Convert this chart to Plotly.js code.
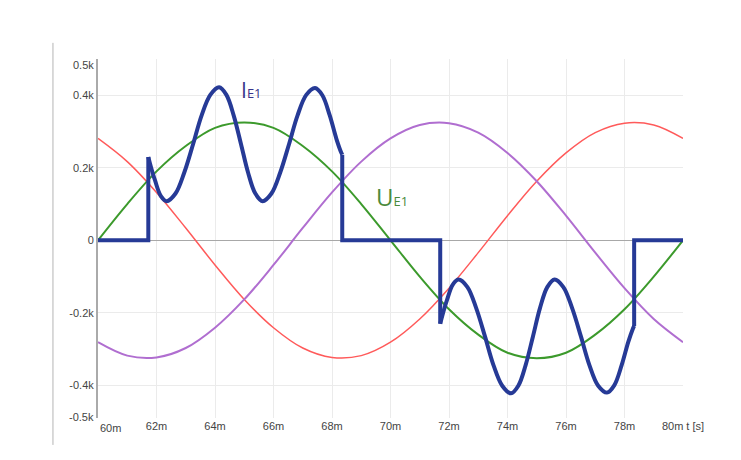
<!DOCTYPE html>
<html>
<head>
<meta charset="utf-8">
<script src="https://cdn.plot.ly/plotly-3.0.1.min.js"></script>
<style>
  html, body { margin: 0; padding: 0; background: #fff; }
  #chart { width: 741px; height: 460px; }
</style>
</head>
<body>
<div id="chart"></div>
<script>
// time axis in ms, values in kV / kA
const tPhase = [60, 61, 62, 63, 64, 65, 66, 67, 68, 69, 70, 71, 72, 73, 74, 75, 76, 77, 78, 79, 80];
const uRed = [0.281, 0.217, 0.132, 0.034, -0.068, -0.163, -0.241, -0.297, -0.323, -0.318, -0.281,
              -0.217, -0.132, -0.034, 0.068, 0.163, 0.241, 0.297, 0.323, 0.318, 0.281];
const uPurple = [-0.281, -0.318, -0.323, -0.297, -0.241, -0.163, -0.068, 0.034, 0.132, 0.217, 0.281,
                 0.318, 0.323, 0.297, 0.241, 0.163, 0.068, -0.034, -0.132, -0.217, -0.281];
const uE1 = [0, 0.10, 0.19, 0.26, 0.31, 0.325, 0.31, 0.26, 0.19, 0.10, 0,
             -0.10, -0.19, -0.26, -0.31, -0.325, -0.31, -0.26, -0.19, -0.10, 0];

// current I_E1: smooth lobes (null separates the two conduction intervals)
const tLobe = [61.72, 61.8, 61.95, 62.15, 62.35, 62.65, 62.95, 63.25, 63.54, 63.84,
  64.14, 64.39, 64.64, 64.89, 65.13, 65.38, 65.63, 65.93, 66.23, 66.53, 66.82,
  67.12, 67.42, 67.67, 67.92, 68.15, 68.3, 68.35, null,
  71.7, 71.78, 71.93, 72.13, 72.33, 72.63, 72.93, 73.23, 73.52, 73.82,
  74.12, 74.37, 74.62, 74.87, 75.11, 75.36, 75.61, 75.91, 76.21, 76.51, 76.8,
  77.1, 77.4, 77.65, 77.9, 78.13, 78.28, 78.33];
const iLobe = [0.23, 0.205, 0.165, 0.122, 0.108, 0.129, 0.187, 0.265, 0.344, 0.401,
  0.422, 0.401, 0.344, 0.265, 0.187, 0.129, 0.108, 0.129, 0.187, 0.265, 0.344,
  0.401, 0.42, 0.40, 0.345, 0.28, 0.245, 0.236, null,
  -0.23, -0.205, -0.165, -0.122, -0.108, -0.129, -0.187, -0.265, -0.344, -0.401,
  -0.422, -0.401, -0.344, -0.265, -0.187, -0.129, -0.108, -0.129, -0.187, -0.265, -0.344,
  -0.401, -0.42, -0.40, -0.345, -0.28, -0.245, -0.236];
// current I_E1: switching steps and zero intervals
const tStep = [60, 61.72, 61.72, null, 68.35, 68.35, 71.7, 71.7, null, 78.33, 78.33, 80];
const iStep = [0, 0, 0.23, null, 0.236, 0, 0, -0.23, null, -0.236, 0, 0];

const xTicks = [60, 62, 64, 66, 68, 70, 72, 74, 76, 78, 80];
const xTickText = ['', '62m', '64m', '66m', '68m', '70m', '72m', '74m', '76m', '78m', '80m t [s]'];
const yTicks = [-0.4, -0.2, 0, 0.2, 0.4];
const yTickText = ['-0.4k', '-0.2k', '0', '0.2k', '0.4k'];

const blue = '#263a96';
const data = [
  { x: tPhase, y: uRed, type: 'scatter', mode: 'lines', line: { color: '#ff5a5a', width: 1.5, shape: 'spline' } },
  { x: tPhase, y: uPurple, type: 'scatter', mode: 'lines', line: { color: '#b06ed0', width: 2, shape: 'spline' } },
  { x: tPhase, y: uE1, type: 'scatter', mode: 'lines', line: { color: '#3c9a2c', width: 2, shape: 'spline' } },
  { x: tStep, y: iStep, type: 'scatter', mode: 'lines', connectgaps: false, line: { color: blue, width: 4, shape: 'linear' } },
  { x: tLobe, y: iLobe, type: 'scatter', mode: 'lines', connectgaps: false, line: { color: blue, width: 4, shape: 'spline' } }
];

const tickFont = { family: 'Liberation Sans, Arial, sans-serif', size: 11, color: '#444' };

const layout = {
  width: 741, height: 460,
  margin: { l: 98, r: 58, t: 59, b: 42 },
  paper_bgcolor: '#fff', plot_bgcolor: '#fff',
  showlegend: false,
  font: tickFont,
  xaxis: {
    range: [60, 80], tickvals: xTicks, ticktext: xTickText,
    showgrid: true, gridcolor: '#ebebeb', gridwidth: 1,
    zeroline: false, showline: false, ticks: '', tickfont: tickFont
  },
  yaxis: {
    range: [-0.49, 0.5], tickvals: yTicks, ticktext: yTickText,
    showgrid: true, gridcolor: '#ebebeb', gridwidth: 1,
    zeroline: true, zerolinecolor: '#a8a8a8', zerolinewidth: 1,
    showline: true, linecolor: '#aaaaaa', linewidth: 2,
    ticks: '', tickfont: tickFont
  },
  shapes: [
    { type: 'line', xref: 'paper', yref: 'paper', x0: -0.077, x1: -0.077, y0: -0.075, y1: 1.045,
      line: { color: '#b5b5b5', width: 1 } }
  ],
  annotations: [
    { xref: 'paper', yref: 'paper', x: 0, y: 0, xanchor: 'left', yanchor: 'top', yshift: -2,
      text: '60m', showarrow: false, font: tickFont },
    { xref: 'paper', x: 0, xanchor: 'right', xshift: -2, y: 0.483, yanchor: 'middle',
      text: '0.5k', showarrow: false, font: tickFont },
    { xref: 'paper', x: 0, xanchor: 'right', xshift: -2, y: -0.486, yanchor: 'middle',
      text: '-0.5k', showarrow: false, font: tickFont },
    { x: 64.82, y: 0.415, xanchor: 'left', yanchor: 'middle', showarrow: false,
      text: "<span style='font-size:21px'>I</span><span style='font-size:13px'>E1</span>",
      font: { family: 'Open Sans, sans-serif', color: '#38348a' } },
    { x: 69.45, y: 0.12, xanchor: 'left', yanchor: 'middle', showarrow: false,
      text: "<span style='font-size:24px'>U</span><span style='font-size:13px'>E1</span>",
      font: { family: 'Open Sans, sans-serif', color: '#4a8a3c' } }
  ]
};

Plotly.newPlot('chart', data, layout, { displayModeBar: false, staticPlot: true });
</script>
</body>
</html>
